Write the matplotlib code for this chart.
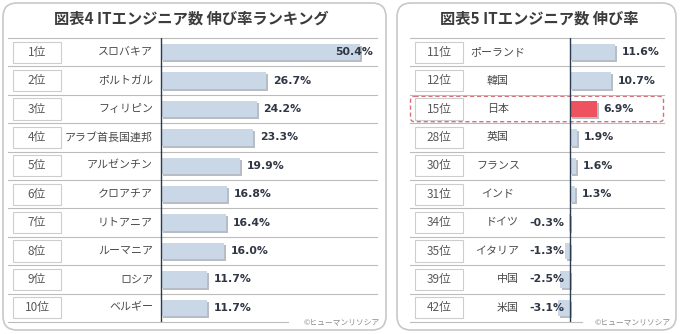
import matplotlib
matplotlib.use('Agg')
import matplotlib.pyplot as plt
import matplotlib.transforms as mtransforms
import matplotlib.patheffects as pe
from matplotlib.patches import FancyBboxPatch, Rectangle

plt.rcParams['font.family'] = ['Noto Sans CJK JP', 'DejaVu Sans']

# data
left_title = '図表4 ITエンジニア数 伸び率ランキング'
left_ranks = ['1位', '2位', '3位', '4位', '5位', '6位', '7位', '8位', '9位', '10位']
left_countries = ['スロバキア', 'ポルトガル', 'フィリピン', 'アラブ首長国連邦', 'アルゼンチン',
                  'クロアチア', 'リトアニア', 'ルーマニア', 'ロシア', 'ベルギー']
left_values = [50.4, 26.7, 24.2, 23.3, 19.9, 16.8, 16.4, 16.0, 11.7, 11.7]

right_title = '図表5 ITエンジニア数 伸び率'
right_ranks = ['11位', '12位', '15位', '28位', '30位', '31位', '34位', '35位', '39位', '42位']
right_countries = ['ポーランド', '韓国', '日本', '英国', 'フランス', 'インド', 'ドイツ', 'イタリア', '中国', '米国']
right_values = [11.6, 10.7, 6.9, 1.9, 1.6, 1.3, -0.3, -1.3, -2.5, -3.1]
highlight = '日本'

copyright_text = '©ヒューマンリソシア'

W, H = 680, 334
TOP, BOTTOM = 38, 322
ROW_H = (BOTTOM - TOP) / 10

BAR_COLOR = '#c9d7e6'
HL_COLOR = '#ee525e'
LINE_COLOR = '#bcbcbc'
AXIS_COLOR = '#2b3a4e'
TEXT_COLOR = '#4a4a4a'
VALUE_COLOR = '#2f3644'
VALUE_SIZE = 7.8

fig = plt.figure(figsize=(W / 100, H / 100), dpi=100)
bg = fig.add_axes([0, 0, 1, 1])
bg.set_xlim(0, W)
bg.set_ylim(H, 0)
bg.axis('off')


def panel(x0, x1, title, title_x):
    box = FancyBboxPatch((x0, 3), x1 - x0, H - 7, boxstyle='round,pad=0,rounding_size=14',
                         fc='white', ec='#c8c8c8', lw=1.2)
    bg.add_patch(box)
    bg.text(title_x, 19, title, ha='center', va='center', fontsize=11, fontweight='bold',
            color='#3c3c3c')


def draw_chart(x0, x1, zero_px, scale, ranks, countries, values, label_x, label_ha,
               neg_label_x, bottom_frac, copy_x):
    ax = fig.add_axes([x0 / W, 1 - BOTTOM / H, (x1 - x0) / W, (BOTTOM - TOP) / H])
    ax.set_xlim(-(zero_px - x0) / scale, (x1 - zero_px) / scale)
    ax.set_ylim(len(values) - 0.5, -0.5)
    ax.axis('off')
    blend = mtransforms.blended_transform_factory(ax.transAxes, ax.transData)
    rows = list(range(len(values)))

    # separators
    for r in rows:
        ax.plot([0, 1], [r - 0.5, r - 0.5], transform=blend, color=LINE_COLOR, lw=0.8,
                clip_on=False, zorder=1)
    ax.plot([0, bottom_frac], [len(values) - 0.5] * 2, transform=blend, color=LINE_COLOR,
            lw=0.8, clip_on=False, zorder=1)

    colors = [HL_COLOR if c == highlight else BAR_COLOR for c in countries]
    bars = ax.barh(rows, values, height=0.58, color=colors, zorder=2)
    for b in bars:
        b.set_path_effects([pe.SimplePatchShadow(offset=(1.4, -1.4), shadow_rgbFace='#7d8794',
                                                 alpha=0.55), pe.Normal()])
    ax.axvline(0, color=AXIS_COLOR, lw=1.0, zorder=3)

    box_w = 48 / (x1 - x0)
    box_l = 5 / (x1 - x0)
    vmax = max(values)
    for r, rank, country, v in zip(rows, ranks, countries, values):
        ax.add_patch(Rectangle((box_l, r - 0.37), box_w, 0.74, transform=blend, fc='white',
                               ec='#cdcdcd', lw=0.8, clip_on=False, zorder=2))
        ax.text(box_l + box_w / 2, r, rank, transform=blend, ha='center', va='center',
                fontsize=8.5, color='#5a5a5a')
        if v < 0:
            ax.text(neg_label_x, r, country, transform=blend, ha='right', va='center',
                    fontsize=7.9, color=TEXT_COLOR)
            ax.annotate(f'{v:.1f}%', (0, r), xytext=(-4, 0), textcoords='offset points',
                        ha='right', va='center', fontsize=VALUE_SIZE, fontweight='bold',
                        color=VALUE_COLOR, family='DejaVu Sans', zorder=4)
        else:
            ax.text(label_x, r, country, transform=blend, ha=label_ha, va='center',
                    fontsize=7.9, color=TEXT_COLOR)
            if v == vmax and v > 40:
                ax.annotate(f'{v:.1f}%', (v, r), xytext=(9, 0), textcoords='offset points',
                            ha='right', va='center', fontsize=VALUE_SIZE, fontweight='bold',
                            color=VALUE_COLOR, family='DejaVu Sans', zorder=4)
            else:
                ax.annotate(f'{v:.1f}%', (v, r), xytext=(5, 0), textcoords='offset points',
                            ha='left', va='center', fontsize=VALUE_SIZE, fontweight='bold',
                            color=VALUE_COLOR, family='DejaVu Sans', zorder=4)

    bg.text(copy_x, BOTTOM, copyright_text, ha='right', va='center', fontsize=5.6,
            color='#8a8a8a')
    return ax


panel(3, 386, left_title, 191)
panel(397, 676, right_title, 539)

draw_chart(8, 377, 161, 3.95, left_ranks, left_countries, left_values,
           label_x=(153 - 8) / 369, label_ha='right', neg_label_x=0.4,
           bottom_frac=(288 - 8) / 369, copy_x=380)

draw_chart(410, 664, 570, 3.85, right_ranks, right_countries, right_values,
           label_x=(498 - 410) / 254, label_ha='center', neg_label_x=(519 - 410) / 254,
           bottom_frac=(582 - 410) / 254, copy_x=671)

# highlight frame around Japan's row
hi = right_countries.index(highlight)
y0 = TOP + ROW_H * hi + 1.5
hl = FancyBboxPatch((410.5, y0), 253, ROW_H - 3, boxstyle='round,pad=0,rounding_size=4',
                    fc='none', ec='#d5707a', lw=1.0, ls=(0, (3, 2)), zorder=10)
bg.add_patch(hl)
bg.set_zorder(0)

fig.savefig('out.png', dpi=100)
